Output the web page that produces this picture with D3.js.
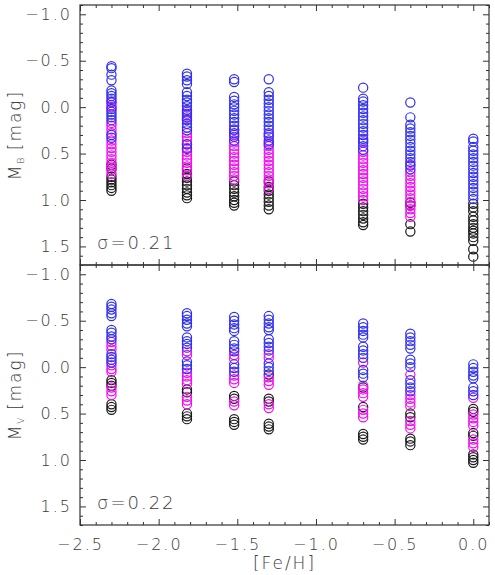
<!DOCTYPE html>
<html>
<head>
<meta charset="utf-8">
<script src="https://cdn.jsdelivr.net/npm/d3@7"></script>
<style>
  body { margin: 0; background: #fff; }
  text { font-family: "DejaVu Sans", sans-serif; font-weight: 200; fill: #3a3a3a; }
</style>
</head>
<body>
<div id="chart"></div>
<script>
// [Fe/H] of each column
const feh = [-2.3, -1.82, -1.52, -1.3, -0.7, -0.4, 0.0];

// M_B values per column, split by colour
const mbBlue = [
  [-0.44, -0.42, -0.35, -0.29, -0.18, -0.15, -0.12, -0.09, -0.06, 0.02, 0.05, 0.08, 0.11, 0.14, 0.30, 0.33],
  [-0.36, -0.33, -0.29, -0.25, -0.16, -0.12, -0.08, -0.05, -0.01, 0.03, 0.07, 0.11, 0.14, 0.18, 0.22, 0.25, 0.40, 0.45],
  [-0.30, -0.27, -0.11, -0.07, -0.03, 0.0, 0.04, 0.08, 0.12, 0.16, 0.20, 0.24, 0.28, 0.32, 0.36],
  [-0.30, -0.16, -0.12, -0.08, -0.04, 0.0, 0.04, 0.08, 0.12, 0.16, 0.20, 0.24, 0.28, 0.32, 0.36, 0.40],
  [-0.21, -0.09, -0.06, -0.02, 0.02, 0.06, 0.10, 0.14, 0.18, 0.22, 0.26, 0.30, 0.34, 0.38, 0.42, 0.46],
  [-0.05, 0.11, 0.19, 0.23, 0.27, 0.31, 0.35, 0.39, 0.43, 0.47, 0.51, 0.55, 0.59, 0.63, 0.67],
  [0.34, 0.37, 0.43, 0.47, 0.51, 0.55, 0.59, 0.63, 0.67, 0.71, 0.75, 0.79, 0.83, 0.87, 0.91, 0.95, 0.99]
];
const mbMagenta = [
  [-0.05, -0.02, 0.0, 0.17, 0.20, 0.24, 0.28, 0.36, 0.40, 0.44, 0.48, 0.52, 0.56, 0.60, 0.64, 0.68, 0.72],
  [0.05, 0.09, 0.13, 0.28, 0.32, 0.36, 0.40, 0.44, 0.48, 0.52, 0.56, 0.60, 0.64, 0.68, 0.74],
  [0.25, 0.30, 0.38, 0.42, 0.46, 0.50, 0.54, 0.58, 0.62, 0.66, 0.70, 0.74, 0.78],
  [0.30, 0.38, 0.42, 0.46, 0.50, 0.54, 0.58, 0.62, 0.66, 0.70, 0.74, 0.78, 0.82, 0.88],
  [0.36, 0.48, 0.52, 0.56, 0.60, 0.64, 0.68, 0.72, 0.76, 0.80, 0.84, 0.88, 0.92, 0.96, 1.00],
  [0.62, 0.70, 0.74, 0.78, 0.82, 0.86, 0.90, 0.94, 0.98, 1.02, 1.06, 1.10, 1.14, 1.18],
  []
];
const mbBlack = [
  [0.62, 0.66, 0.75, 0.78, 0.81, 0.84, 0.87, 0.90],
  [0.66, 0.72, 0.76, 0.80, 0.84, 0.88, 0.92, 0.95, 0.98],
  [0.80, 0.84, 0.88, 0.92, 0.96, 1.00, 1.03, 1.06],
  [0.80, 0.86, 0.90, 0.94, 0.98, 1.02, 1.06, 1.10],
  [1.04, 1.08, 1.12, 1.16, 1.20, 1.24, 1.27],
  [1.03, 1.06, 1.26, 1.34],
  [1.04, 1.08, 1.12, 1.18, 1.22, 1.26, 1.30, 1.33, 1.36, 1.40, 1.44, 1.53, 1.61]
];

// M_V values per column, split by colour
const mvBlue = [
  [-0.68, -0.65, -0.62, -0.58, -0.55, -0.40, -0.37, -0.33, -0.30, -0.14, -0.11, -0.08, -0.05],
  [-0.58, -0.55, -0.51, -0.47, -0.44, -0.32, -0.28, -0.25, -0.21, -0.06, -0.02, 0.02],
  [-0.54, -0.50, -0.46, -0.42, -0.39, -0.28, -0.24, -0.20, -0.17, -0.03, 0.01, 0.05],
  [-0.55, -0.51, -0.47, -0.43, -0.40, -0.30, -0.26, -0.22, -0.18, -0.04, 0.0, 0.04],
  [-0.47, -0.43, -0.39, -0.35, -0.32, -0.22, -0.18, -0.14, -0.10, 0.03, 0.07, 0.11],
  [-0.36, -0.32, -0.28, -0.24, -0.20, -0.08, -0.04, 0.0, 0.14, 0.18, 0.22, 0.26],
  [-0.03, 0.01, 0.05, 0.09, 0.12, 0.22, 0.26, 0.30]
];
const mvMagenta = [
  [-0.27, -0.23, -0.19, -0.02, 0.02, 0.05, 0.22, 0.26, 0.30],
  [-0.17, -0.13, 0.06, 0.10, 0.14, 0.18, 0.32, 0.36, 0.40],
  [-0.13, -0.09, 0.09, 0.13, 0.17, 0.37, 0.41],
  [-0.14, -0.10, 0.11, 0.15, 0.19, 0.40, 0.44],
  [-0.05, 0.20, 0.24, 0.28, 0.32, 0.46, 0.50, 0.54],
  [0.08, 0.30, 0.34, 0.38, 0.42, 0.58, 0.62, 0.66],
  [0.33, 0.51, 0.55, 0.59, 0.63, 0.78, 0.82, 0.86]
];
const mvBlack = [
  [0.14, 0.17, 0.20, 0.40, 0.43, 0.46],
  [0.24, 0.27, 0.50, 0.53, 0.56],
  [0.31, 0.34, 0.56, 0.59, 0.62],
  [0.08, 0.34, 0.37, 0.61, 0.64, 0.67],
  [0.22, 0.43, 0.72, 0.75, 0.78],
  [0.50, 0.54, 0.77, 0.80, 0.84],
  [0.45, 0.48, 0.71, 0.74, 0.94, 0.97, 1.00, 1.03]
];

const panels = [
  { label: "M", sub: "B", sigma: "σ=0.21", blue: mbBlue, magenta: mbMagenta, black: mbBlack },
  { label: "M", sub: "V", sigma: "σ=0.22", blue: mvBlue, magenta: mvMagenta, black: mvBlack }
];

const colors = { black: "#1a1a1a", blue: "#2f2ff0", magenta: "#f00cf0" };

const W = 495, H = 575;
const plotLeft = 80, plotRight = 489, plotTop = 5, panelH = 260;

const svg = d3.select("#chart").append("svg")
  .attr("width", W)
  .attr("height", H);

const x = d3.scaleLinear().domain([-2.5, 0.1]).range([plotLeft, plotRight]);

const xMajor = [-2.5, -2.0, -1.5, -1.0, -0.5, 0.0];
const xMinor = d3.range(-25, 2).map(d => d / 10).filter(d => !xMajor.some(m => Math.abs(m - d) < 1e-6));
const yMajor = [-1.0, -0.5, 0.0, 0.5, 1.0, 1.5];
const yMinor = d3.range(-11, 18).map(d => d / 10).filter(d => !yMajor.some(m => Math.abs(m - d) < 1e-6));

const fmt = d3.format(".1f");

panels.forEach((p, i) => {
  const y0 = plotTop + i * panelH;
  const y = d3.scaleLinear().domain([-1.1, 1.7]).range([y0, y0 + panelH]);
  const g = svg.append("g");

  // points
  ["black", "magenta", "blue"].forEach(c => {
    const pts = [];
    p[c].forEach((vals, k) => vals.forEach(v => pts.push({ feh: feh[k], m: v })));
    g.selectAll("circle." + c)
      .data(pts)
      .enter()
      .append("circle")
      .attr("class", c)
      .attr("cx", d => x(d.feh))
      .attr("cy", d => y(d.m))
      .attr("r", 4.6)
      .style("fill", "none")
      .style("stroke", colors[c])
      .style("stroke-width", 1.2);
  });

  // axes (ticks point inward on all four sides)
  const axes = [
    [d3.axisLeft(y).tickValues(yMajor).tickSize(-6).tickPadding(8).tickFormat(fmt), `translate(${plotLeft},0)`],
    [d3.axisLeft(y).tickValues(yMinor).tickSize(-3).tickFormat(""), `translate(${plotLeft},0)`],
    [d3.axisRight(y).tickValues(yMajor).tickSize(-6).tickFormat(""), `translate(${plotRight},0)`],
    [d3.axisRight(y).tickValues(yMinor).tickSize(-3).tickFormat(""), `translate(${plotRight},0)`],
    [d3.axisTop(x).tickValues(xMajor).tickSize(-6).tickFormat(""), `translate(0,${y0})`],
    [d3.axisTop(x).tickValues(xMinor).tickSize(-3).tickFormat(""), `translate(0,${y0})`],
    [d3.axisBottom(x).tickValues(xMajor).tickSize(-6).tickPadding(14).tickFormat(i === 1 ? fmt : ""), `translate(0,${y0 + panelH})`],
    [d3.axisBottom(x).tickValues(xMinor).tickSize(-3).tickFormat(""), `translate(0,${y0 + panelH})`]
  ];
  axes.forEach(([ax, tr]) => {
    const a = g.append("g").attr("transform", tr).call(ax);
    a.select(".domain").remove();
    a.selectAll("line").attr("stroke", "#333");
    a.selectAll("text")
      .style("font-family", "DejaVu Sans, sans-serif")
      .style("font-weight", "200")
      .style("font-size", "16px")
      .style("letter-spacing", "2px")
      .attr("fill", "#3a3a3a");
  });

  // frame
  g.append("rect")
    .attr("x", plotLeft)
    .attr("y", y0)
    .attr("width", plotRight - plotLeft)
    .attr("height", panelH)
    .style("fill", "none")
    .style("stroke", "#333")
    .style("stroke-width", 1.2);

  // y axis label
  const lbl = g.append("text")
    .attr("transform", `translate(21,${y0 + panelH / 2}) rotate(-90)`)
    .style("text-anchor", "middle")
    .style("font-size", "17px")
    .style("letter-spacing", "2px");
  lbl.append("tspan").text(p.label);
  lbl.append("tspan").attr("dy", 3).style("font-size", "9px").style("letter-spacing", "0px").text(p.sub);
  lbl.append("tspan").attr("dy", -3).text(" [mag]");

  // sigma
  g.append("text")
    .attr("x", 97)
    .attr("y", y0 + panelH - 16)
    .style("font-size", "18px")
    .style("letter-spacing", "2px")
    .text(p.sigma);
});

// x axis label
svg.append("text")
  .attr("x", (plotLeft + plotRight) / 2)
  .attr("y", 569)
  .style("text-anchor", "middle")
  .style("font-size", "17px")
  .style("letter-spacing", "2px")
  .text("[Fe/H]");
</script>
</body>
</html>
